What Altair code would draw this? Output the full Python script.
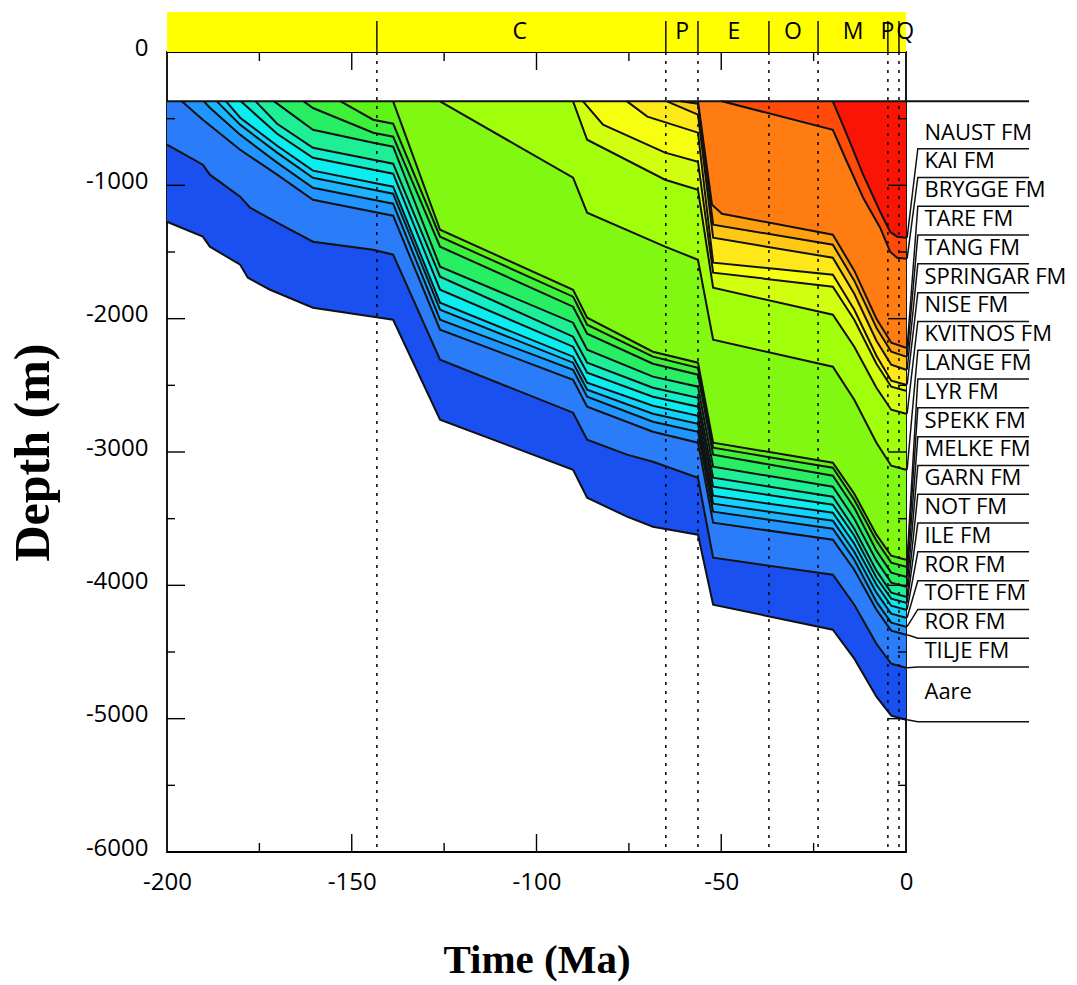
import altair as alt
import pandas as pd

SURFACE = -370  # sea-floor depth line (m)

# ---------------- horizon burial paths (time Ma, depth m) ----------------
t_h1 = [-19.8, -16, -11.6, -7, -4.3, -2.4, 0]
d_h1 = [-370, -620, -920, -1198, -1348, -1385, -1393]
t_h2 = [-49.8, -19.8, -16, -11.6, -7, -4.3, -2.4, 0]
d_h2 = [-370, -583, -823, -1093, -1318, -1498, -1543, -1550]
t_h3 = [-56.3, -52.5, -49.8, -19.8, -14, -8, -4, 0]
d_h3 = [-370, -1145, -1213, -1370, -1640, -2000, -2180, -2218]
t_h4 = [-61, -56.3, -52.2, -19.8, -14, -8, -4, 0]
d_h4 = [-370, -388, -1295, -1445, -1715, -2068, -2248, -2285]
t_h5 = [-64.7, -56.3, -52.2, -19.8, -14, -8, -4, 0]
d_h5 = [-370, -470, -1393, -1543, -1813, -2165, -2345, -2383]
t_h6 = [-75.5, -70, -56.3, -52.2, -19.8, -14, -8, -4, 0]
d_h6 = [-370, -485, -605, -1580, -1670, -1933, -2278, -2465, -2495]
t_h7 = [-87.4, -82, -65.2, -56.3, -52.2, -19.8, -14, -8, -4, 0]
d_h7 = [-370, -545, -755, -823, -1655, -1760, -2008, -2338, -2510, -2540]
t_h8 = [-90.1, -86.3, -65.2, -56.3, -52.2, -19.8, -14, -8, -4, 0]
d_h8 = [-370, -658, -958, -1033, -1768, -1970, -2210, -2518, -2683, -2713]
t_h9 = [-126.1, -90.1, -86.3, -65.2, -56.3, -52.2, -19.8, -14, -8, -4, 0]
d_h9 = [-370, -943, -1205, -1460, -1558, -2158, -2360, -2608, -2930, -3103, -3133]
t_h10 = [-138.8, -126.1, -90.1, -86.3, -68.5, -56.3, -52.2, -19.8, -14, -8, -4, 0]
d_h10 = [-370, -1333, -1783, -1993, -2248, -2330, -2930, -3080, -3313, -3620, -3778, -3808]
t_h11 = [-153, -144.2, -138.8, -126.1, -90.1, -86.3, -68.5, -56.3, -52.2, -19.8, -14, -8, -4, 0]
d_h11 = [-370, -508, -538, -1385, -1835, -2045, -2285, -2368, -2968, -3118, -3358, -3665, -3830, -3860]
t_h12 = [-163, -160.5, -144.2, -138.8, -126.1, -90.1, -86.3, -68.5, -56.3, -52.2, -19.8, -14, -8, -4, 0]
d_h12 = [-370, -420, -605, -635, -1460, -1910, -2113, -2338, -2420, -3020, -3178, -3418, -3740, -3905, -3935]
t_h13 = [-171, -160.5, -144.2, -138.8, -126.1, -90.1, -86.3, -68.5, -56.3, -52.2, -19.8, -14, -8, -4, 0]
d_h13 = [-370, -583, -680, -710, -1610, -2030, -2233, -2435, -2510, -3110, -3260, -3500, -3815, -3980, -4010]
t_h14 = [-176, -170.2, -160.5, -144.2, -138.8, -126.1, -90.1, -86.3, -68.5, -56.3, -52.2, -19.8, -14, -8, -4, 0]
d_h14 = [-370, -538, -718, -808, -838, -1685, -2135, -2330, -2518, -2593, -3193, -3335, -3575, -3890, -4055, -4085]
t_h15 = [-180, -170.2, -160.5, -144.2, -138.8, -126.1, -90.1, -86.3, -68.5, -56.3, -52.2, -19.8, -14, -8, -4, 0]
d_h15 = [-370, -613, -793, -883, -913, -1783, -2210, -2405, -2585, -2660, -3260, -3395, -3628, -3943, -4100, -4130]
t_h16 = [-184, -180.2, -170.2, -160.5, -144.2, -138.8, -126.1, -90.1, -86.3, -68.5, -56.3, -52.2, -19.8, -14, -8, -4, 0]
d_h16 = [-370, -493, -703, -890, -980, -1010, -1880, -2285, -2480, -2653, -2728, -3328, -3455, -3688, -3995, -4153, -4183]
t_h17 = [-186.5, -180.2, -170.2, -160.5, -144.2, -138.8, -126.1, -90.1, -86.3, -68.5, -56.3, -52.2, -19.8, -14, -8, -4, 0]
d_h17 = [-370, -545, -755, -943, -1033, -1063, -1933, -2330, -2533, -2713, -2788, -3388, -3515, -3748, -4055, -4213, -4243]
t_h18 = [-190, -188.4, -180.2, -170.2, -160.5, -144.2, -138.8, -126.1, -90.1, -86.3, -68.5, -56.3, -52.2, -19.8, -14, -8, -4, 0]
d_h18 = [-370, -418, -620, -830, -1018, -1108, -1138, -2008, -2383, -2585, -2773, -2848, -3448, -3575, -3808, -4123, -4280, -4310]
t_h19 = [-196, -190.3, -180.2, -170.2, -160.5, -144.2, -138.8, -126.1, -90.1, -86.3, -68.5, -56.3, -52.2, -19.8, -14, -8, -4, 0]
d_h19 = [-370, -508, -733, -920, -1108, -1198, -1228, -2083, -2458, -2660, -2848, -2930, -3530, -3658, -3883, -4183, -4340, -4370]
t_h20 = [-200, -190.3, -188.4, -180.2, -177.5, -170.2, -160.5, -144.2, -138.8, -126.1, -90.1, -86.3, -75.5, -68.5, -56.3, -52.2, -19.8, -14, -8, -4, 0]
d_h20 = [-695, -845, -920, -1085, -1168, -1280, -1423, -1483, -1520, -2308, -2705, -2908, -3020, -3073, -3193, -3793, -3920, -4145, -4438, -4588, -4618]
t_h21 = [-200, -190.3, -188.4, -180.2, -178.1, -172.1, -160.5, -144.2, -138.8, -126.1, -90.1, -86.3, -75.5, -68.5, -56.3, -52.2, -19.8, -14, -8, -4, 0]
d_h21 = [-1273, -1385, -1460, -1595, -1693, -1783, -1918, -1985, -2008, -2758, -3133, -3343, -3485, -3560, -3620, -4145, -4333, -4550, -4835, -4978, -5008]

HORIZONS = [(t_h1, d_h1), (t_h2, d_h2), (t_h3, d_h3), (t_h4, d_h4), (t_h5, d_h5),
            (t_h6, d_h6), (t_h7, d_h7), (t_h8, d_h8), (t_h9, d_h9), (t_h10, d_h10),
            (t_h11, d_h11), (t_h12, d_h12), (t_h13, d_h13), (t_h14, d_h14), (t_h15, d_h15),
            (t_h16, d_h16), (t_h17, d_h17), (t_h18, d_h18), (t_h19, d_h19), (t_h20, d_h20),
            (t_h21, d_h21)]

# fill colour of the unit lying above each horizon (young -> old)
UNIT_COLORS = ["#fa1406", "#ff4a0a", "#ff7c12", "#ffa010", "#ffc815", "#ffe81a", "#f6ff10",
               "#d2ff10", "#a2ff0c", "#80f812", "#5ef418", "#3cf03c", "#28ee64", "#1eee96",
               "#14eec8", "#0aeef0", "#10d4ff", "#1ab4ff", "#2094ff", "#2a7cf8", "#1a50f0"]

# formation labels on the right, with the horizon each boundary line points to
FM_NAMES = ["NAUST FM", "KAI FM", "BRYGGE FM", "TARE FM", "TANG FM", "SPRINGAR FM", "NISE FM",
            "KVITNOS FM", "LANGE FM", "LYR FM", "SPEKK FM", "MELKE FM", "GARN FM", "NOT FM",
            "ILE FM", "ROR FM", "TOFTE FM", "ROR FM", "TILJE FM", "Aare"]
FM_HORIZON = [1, 2, 3, 4, 5, 6, 8, 9, 10, 11, 12, 13, 14, 15, 16, 17, 18, 19, 20, 21]

# geological time scale band
PERIOD_BOUNDS = [-143.2, -65.0, -56.3, -37.1, -23.8, -4.9, -1.9]
PERIOD_NAMES = ["C", "P", "E", "O", "M", "P", "Q"]
PERIOD_MID = [-104.5, -60.6, -46.6, -30.6, -14.3, -5.0, -0.2]

X_LABELS = [-200, -150, -100, -50, 0]
Y_LABELS = [-6000, -5000, -4000, -3000, -2000, -1000, 0]
X_MAJOR = [-150, -100, -50]
X_MINOR = [-175, -125, -75, -25]
Y_MAJOR = [-5000, -4000, -3000, -2000, -1000]
Y_MINOR = [-5500, -4500, -3500, -2500, -1500, -500]

# ---------------- layout constants ----------------
W, H = 739, 800
LBL_X0, LBL_X1, LBL_END, LBL_TEXT = 0.3, 3.2, 33.3, 5.0
LBL_TOP = -605      # depth of first label centre
LBL_STEP = -216     # label spacing (m)
BOUND_TOP = -725    # first boundary line
AARE_LABEL = -4798
AARE_BOTTOM = -5023

XS = alt.Scale(domain=[-200, 0], nice=False, zero=False)
YS = alt.Scale(domain=[-6000, 0], nice=False, zero=False)

XAX = alt.Axis(values=X_LABELS, ticks=False, tickSize=0, domain=False, grid=False,
               labelFlush=False, labelOverlap=False, labelFont="Open Sans",
               labelFontSize=24, labelColor="black", labelPadding=18,
               labelExpr="'' + datum.value", title="Time (Ma)",
               titleFont="Liberation Serif", titleFontSize=41, titleFontWeight="bold",
               titleColor="black", titleX=W / 2, titleY=120, titleBaseline="alphabetic",
               titleAlign="center")
YAX = alt.Axis(values=Y_LABELS, ticks=False, tickSize=0, domain=False, grid=False,
               labelFlush=False, labelOverlap=False, labelFont="Open Sans",
               labelFontSize=24, labelColor="black", labelPadding=19, labelOffset=-4,
               labelExpr="'' + datum.value", title="Depth (m)",
               titleFont="Liberation Serif", titleFontSize=50, titleFontWeight="bold",
               titleColor="black", titleX=-134, titleY=H / 2, titleAngle=270,
               titleBaseline="middle", titleAlign="center")


def X():
    return alt.X("t:Q", scale=XS, axis=XAX)


def Y():
    return alt.Y("d:Q", scale=YS, axis=YAX)


layers = []

# ---- filled units, oldest first ----
for k in range(len(HORIZONS), 0, -1):
    ts, ds = HORIZONS[k - 1]
    df = pd.DataFrame({"t": ts, "d": ds, "top": [SURFACE] * len(ts)})
    layers.append(
        alt.Chart(df).mark_area(color=UNIT_COLORS[k - 1], opacity=1, strokeWidth=0)
        .encode(x=X(), y=Y(), y2="top:Q")
    )

# ---- dotted time-boundary lines ----
layers.append(
    alt.Chart(pd.DataFrame({"t": PERIOD_BOUNDS}))
    .mark_rule(color="black", strokeWidth=1.5, strokeDash=[3, 6])
    .encode(x=X(), y=alt.value(0), y2=alt.value(H))
)

# ---- horizon lines ----
rows = []
for k, (ts, ds) in enumerate(HORIZONS, start=1):
    for i, (t, d) in enumerate(zip(ts, ds)):
        rows.append({"k": k, "i": i, "t": t, "d": d})
rows.append({"k": 0, "i": 0, "t": -200, "d": SURFACE})
rows.append({"k": 0, "i": 1, "t": LBL_END, "d": SURFACE})
layers.append(
    alt.Chart(pd.DataFrame(rows)).mark_line(color="#111111", strokeWidth=2)
    .encode(x=X(), y=Y(), detail="k:N", order="i:Q")
)

# ---- label boundary lines with leaders ----
lead = []
n = len(FM_NAMES)
for j in range(n):
    h = FM_HORIZON[j]
    present = HORIZONS[h - 1][1][-1]
    b = AARE_BOTTOM if j == n - 1 else BOUND_TOP + LBL_STEP * j
    lead.append({"k": j, "i": 0, "t": LBL_X0, "d": present})
    lead.append({"k": j, "i": 1, "t": LBL_X1, "d": b})
    lead.append({"k": j, "i": 2, "t": LBL_END, "d": b})
layers.append(
    alt.Chart(pd.DataFrame(lead)).mark_line(color="#111111", strokeWidth=1.5)
    .encode(x=X(), y=Y(), detail="k:N", order="i:Q")
)

lab_rows = []
for j, name in enumerate(FM_NAMES):
    y = AARE_LABEL if j == n - 1 else LBL_TOP + LBL_STEP * j
    lab_rows.append({"t": LBL_TEXT, "d": y, "name": name})
layers.append(
    alt.Chart(pd.DataFrame(lab_rows))
    .mark_text(align="left", baseline="middle", font="Open Sans", fontSize=22, color="black")
    .encode(x=X(), y=Y(), text="name:N")
)

# ---- inward ticks on all four sides ----
for vals, ln in ((X_MAJOR, 18), (X_MINOR, 9)):
    dfx = pd.DataFrame({"t": vals})
    layers.append(alt.Chart(dfx).mark_rule(color="black", strokeWidth=1.4)
                  .encode(x=X(), y=alt.value(H - ln), y2=alt.value(H)))
    layers.append(alt.Chart(dfx).mark_rule(color="black", strokeWidth=1.4)
                  .encode(x=X(), y=alt.value(0), y2=alt.value(ln)))
for vals, ln in ((Y_MAJOR, 18), (Y_MINOR, 8)):
    dfy = pd.DataFrame({"d": vals})
    layers.append(alt.Chart(dfy).mark_rule(color="black", strokeWidth=1.4)
                  .encode(y=Y(), x=alt.value(0), x2=alt.value(ln)))
    layers.append(alt.Chart(dfy).mark_rule(color="black", strokeWidth=1.4)
                  .encode(y=Y(), x=alt.value(W - ln), x2=alt.value(W)))

# ---- time-scale band ----
layers.append(
    alt.Chart(pd.DataFrame({"a": [0]})).mark_rect(color="#ffff00")
    .encode(x=alt.value(0), x2=alt.value(W), y=alt.value(-40), y2=alt.value(0))
)
layers.append(
    alt.Chart(pd.DataFrame({"t": PERIOD_BOUNDS})).mark_rule(color="black", strokeWidth=1.4)
    .encode(x=X(), y=alt.value(-31), y2=alt.value(0))
)
layers.append(
    alt.Chart(pd.DataFrame({"t": PERIOD_MID, "name": PERIOD_NAMES}))
    .mark_text(font="Open Sans", fontSize=23, color="black", baseline="middle", align="center")
    .encode(x=X(), y=alt.value(-20), text="name:N")
)

chart = alt.layer(*layers).properties(
    width=W, height=H,
    padding={"left": 167, "top": 52, "right": 171, "bottom": 133},
    autosize=alt.AutoSizeParams(type="none"),
).configure_view(stroke="black", strokeWidth=1.8)

chart.save("out.html", embed_options={"renderer": "svg", "actions": False})
